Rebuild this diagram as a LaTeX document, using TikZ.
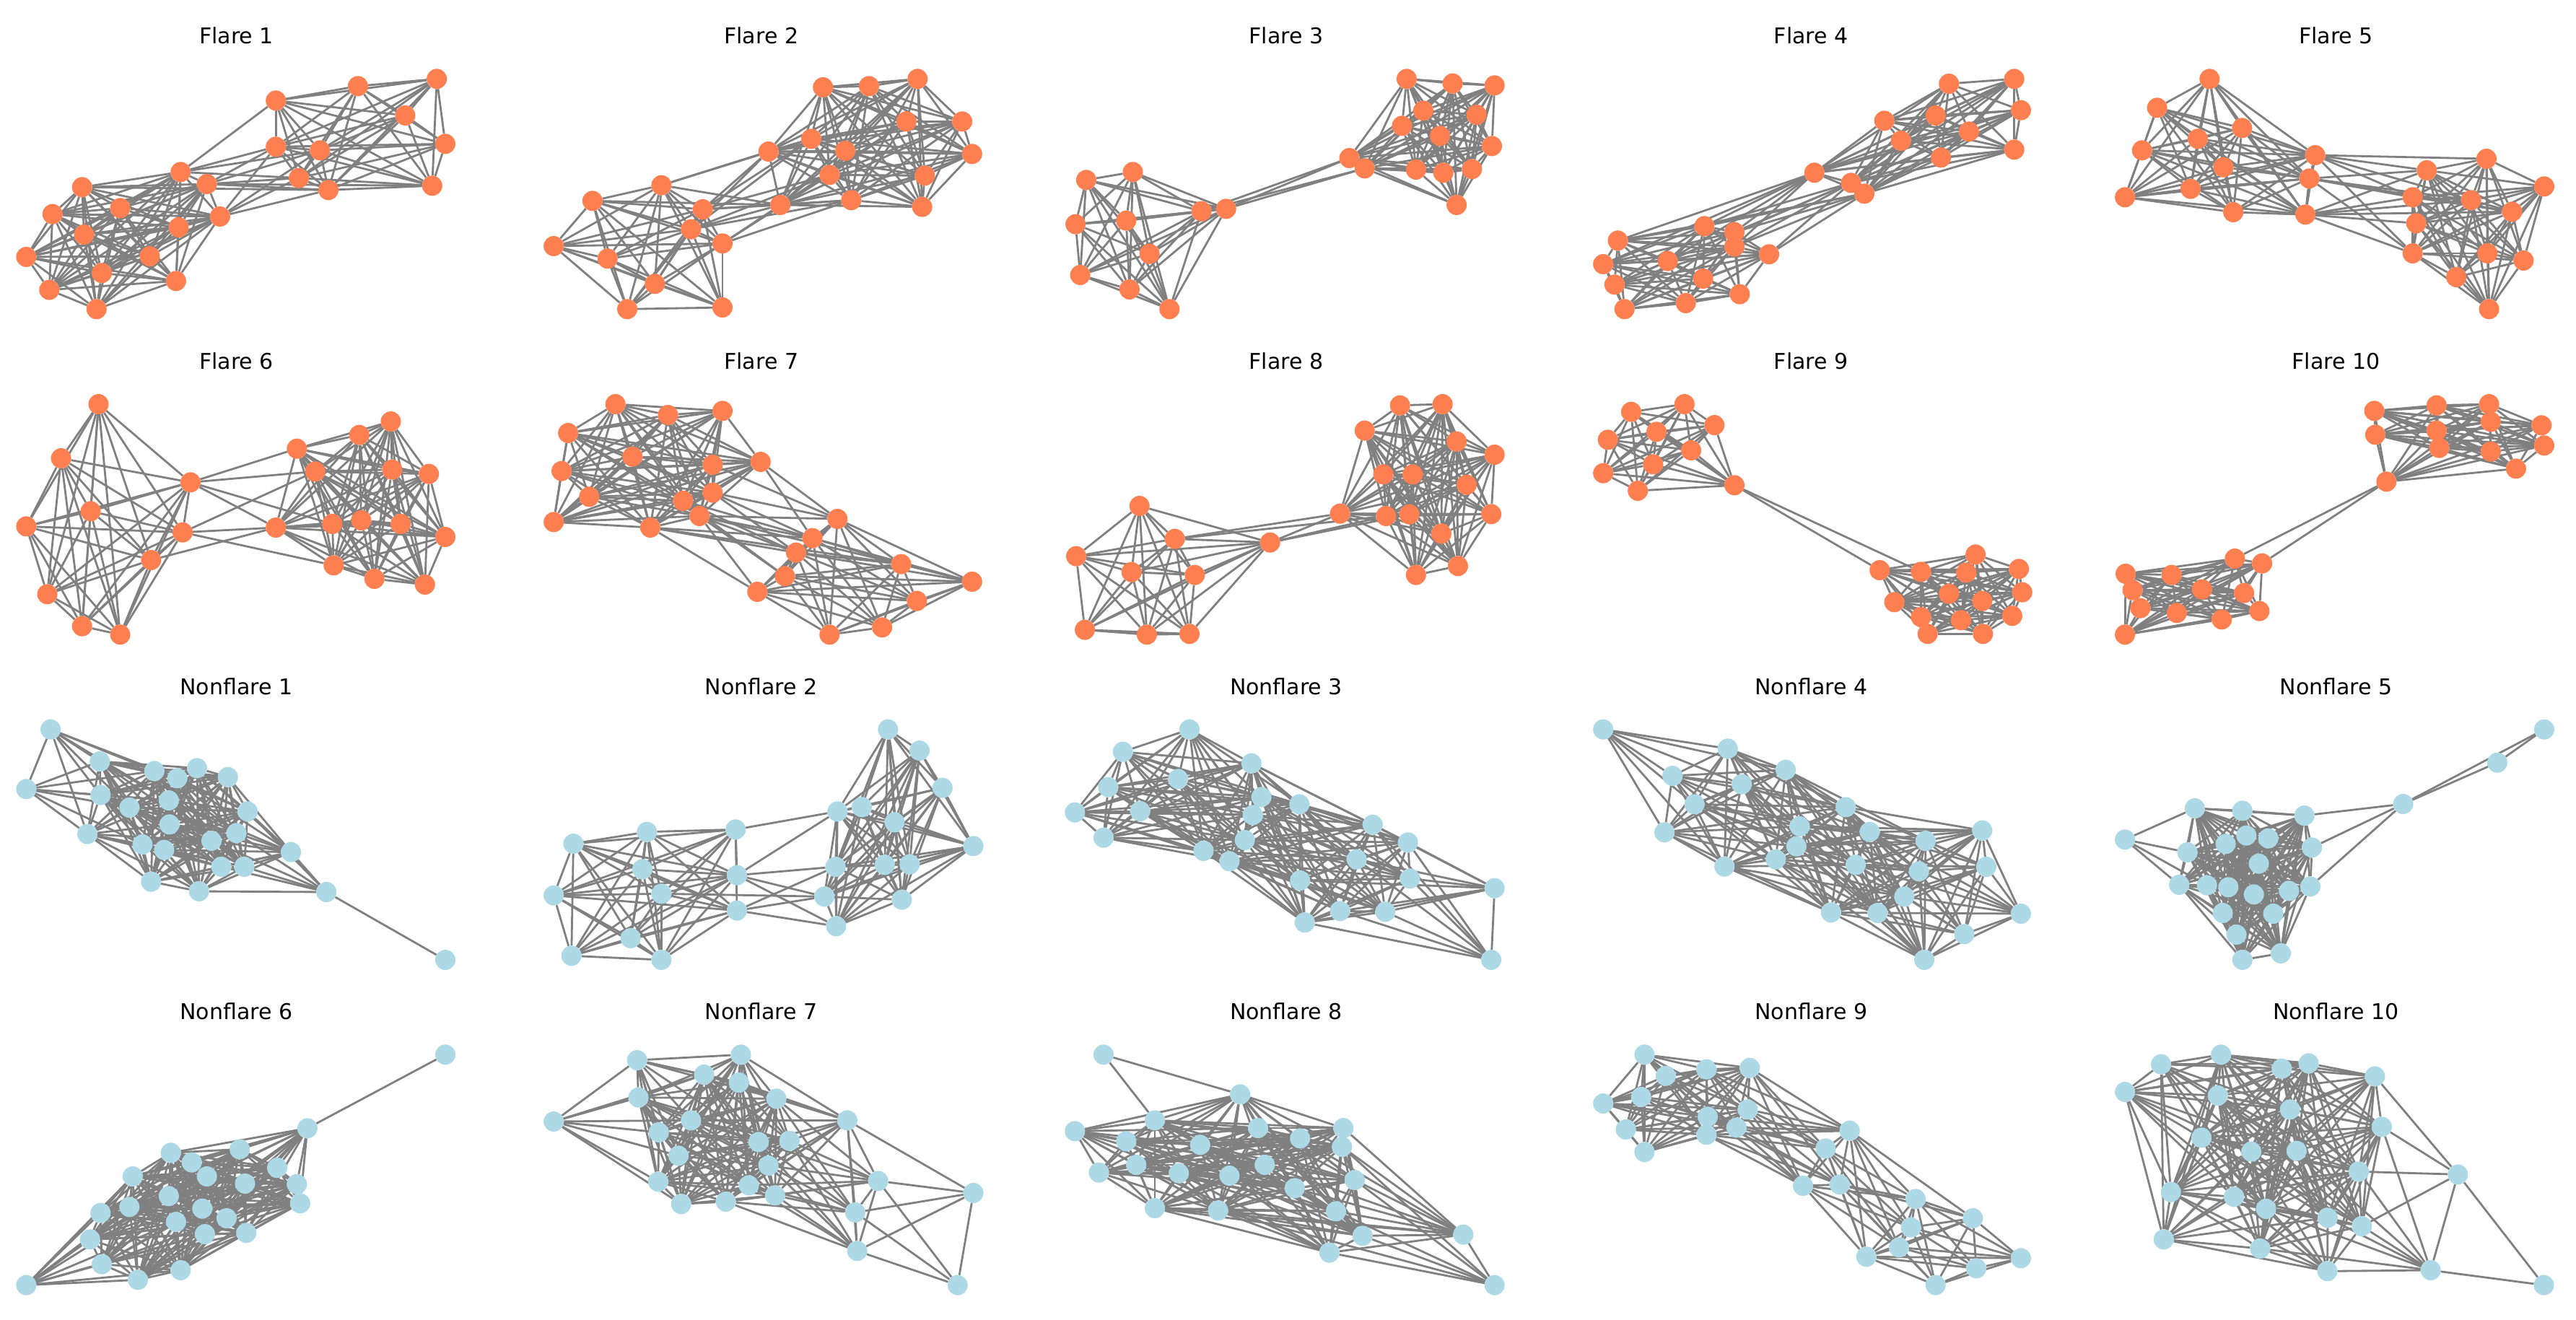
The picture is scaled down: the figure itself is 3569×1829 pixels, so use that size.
\documentclass[tikz,border=0pt]{standalone}
\usepackage{fontspec}
\setmainfont{DejaVu Sans}
\pgfdeclarelayer{bglayer}
\pgfdeclarelayer{edgelayer}
\pgfsetlayers{bglayer,edgelayer,main}
\definecolor{coralc}{HTML}{FF7F50}
\definecolor{lblue}{HTML}{ADD8E6}
\definecolor{edgec}{HTML}{808080}
\tikzset{
  fnode/.style={circle,fill=coralc,draw=none,inner sep=0pt,minimum size=1.4cm},
  nnode/.style={circle,fill=lblue,draw=none,inner sep=0pt,minimum size=1.4cm},
  edgeline/.style={draw=edgec,line width=4pt},
  ptitle/.style={anchor=base,font=\fontsize{42.7}{50}\selectfont,inner sep=0pt}
}
% #1 prefix, #2 crop x, #3 crop y, #4 x scale, #5 radius, #6 node style, #7 nodes, #8 extra edges
\newcommand\graphpanel[8]{%
  \foreach[count=\i] \px/\py/\pc in {#7}{%
    \pgfmathsetmacro\fx{#2+\px*#4}%
    \pgfmathsetmacro\fy{#3+\py/3}%
    \node[#6] (#1-\i) at (\fx,\fy) {};
    \expandafter\xdef\csname #1x\i\endcsname{\fx}%
    \expandafter\xdef\csname #1y\i\endcsname{\fy}%
    \expandafter\xdef\csname #1c\i\endcsname{\pc}%
    \xdef\gpn{\i}%
  }%
  \begin{pgfonlayer}{edgelayer}
  \foreach \i in {1,...,\gpn}{%
    \foreach \j in {1,...,\gpn}{%
      \ifnum\j>\i\relax
        \ifnum\csname #1c\i\endcsname=\csname #1c\j\endcsname\relax
          \edef\xa{\csname #1x\i\endcsname}\edef\xb{\csname #1x\j\endcsname}%
          \edef\ya{\csname #1y\i\endcsname}\edef\yb{\csname #1y\j\endcsname}%
          \pgfmathtruncatemacro\gpok{veclen(\xa-\xb,\ya-\yb)<#5?1:0}%
          \ifnum\gpok=1\relax
            \draw[edgeline] (#1-\i) -- (#1-\j);
          \fi
        \fi
      \fi
    }%
  }%
  \if\relax\detokenize{#8}\relax\else
    \foreach \ea/\eb in {#8}{\draw[edgeline] (#1-\ea) -- (#1-\eb);}%
  \fi
  \end{pgfonlayer}
}
\begin{document}
\begin{tikzpicture}[x=0.05cm,y=-0.05cm]
\begin{pgfonlayer}{bglayer}
\fill[white] (0,0) rectangle (3569,1829);
\end{pgfonlayer}
\useasboundingbox (0,0) rectangle (3569,1829);

% ---------- titles ----------
\node[ptitle] (t1) at (327.5,61) {Flare 1};
\node[ptitle] (t2) at (1054.75,61) {Flare 2};
\node[ptitle] (t3) at (1782,61) {Flare 3};
\node[ptitle] (t4) at (2509.25,61) {Flare 4};
\node[ptitle] (t5) at (3236.5,61) {Flare 5};
\node[ptitle] (t6) at (327.5,511) {Flare 6};
\node[ptitle] (t7) at (1054.75,511) {Flare 7};
\node[ptitle] (t8) at (1782,511) {Flare 8};
\node[ptitle] (t9) at (2509.25,511) {Flare 9};
\node[ptitle] (t10) at (3236.5,511) {Flare 10};
\node[ptitle] (t11) at (327.5,962) {Nonflare 1};
\node[ptitle] (t12) at (1054.75,962) {Nonflare 2};
\node[ptitle] (t13) at (1782,962) {Nonflare 3};
\node[ptitle] (t14) at (2509.25,962) {Nonflare 4};
\node[ptitle] (t15) at (3236.5,962) {Nonflare 5};
\node[ptitle] (t16) at (327.5,1412) {Nonflare 6};
\node[ptitle] (t17) at (1054.75,1412) {Nonflare 7};
\node[ptitle] (t18) at (1782,1412) {Nonflare 8};
\node[ptitle] (t19) at (2509.25,1412) {Nonflare 9};
\node[ptitle] (t20) at (3236.5,1412) {Nonflare 10};

% ---------- Flare panels ----------
\graphpanel{fa}{0}{60}{0.91}{500}{fnode}{420/238/1,545/178/1,665/148/1,617/300/1,678/418/1,420/430/1,487/445/1,455/560/1,500/610/1,658/592/1,275/535/2,315/585/2,125/598/2,183/685/2,80/710/2,335/720/2,272/765/2,128/795/2,40/888/2,228/885/2,155/955/2,268/988/2,75/1025/2,147/1105/2}{11/1,11/6,11/7,11/8,12/6,12/8,12/9,12/10,16/8,16/9,16/7,13/9,12/7,16/6}

\graphpanel{fb}{0}{60}{0.91}{500}{fnode}{1253/183/1,1323/178/1,1397/148/1,1380/325/1,1465/325/1,1235/397/1,1170/450/1,1287/447/1,1480/460/1,1263/547/1,1408/550/1,1296/652/1,1404/680/1,1188/672/1,1007/590/2,902/655/2,1070/690/2,1052/773/2,1100/832/2,843/843/2,925/895/2,997/1000/2,955/1105/2,1100/1098/2}{15/7,15/14,17/7,17/14,17/10,17/12,18/7,18/14,18/10,18/12,19/14,19/12,19/10,16/14,15/6,17/6,18/6}

\graphpanel{fc}{1420}{60}{0.923}{500}{fnode}{92/568/1,162/535/1,76/752/1,152/737/1,187/875/1,83/963/1,157/1023/1,217/1105/1,265/698/1,302/688/1,573/148/2,642/167/2,705/175/2,598/280/2,678/297/2,566/343/2,623/385/2,701/427/2,487/477/2,510/520/2,587/525/2,628/538/2,671/523/2,648/672/2}{9/19,10/19,10/20,9/20}

\graphpanel{fd}{1420}{60}{0.923}{500}{fnode}{1387/168/1,1485/148/1,1495/278/1,1290/322/1,1367/300/1,1417/367/1,1315/405/1,1485/442/1,1375/475/1,1185/538/1,1240/580/1,1260/625/1,1020/760/2,1065/785/2,1065/845/2,890/820/2,868/918/2,965/905/2,1117/877/2,1018/978/2,885/1003/2,1073/1043/2,992/1080/2,900/1105/2}{10/13,10/14,10/15,10/16,10/17,11/13,11/14,11/15,11/19,11/18,12/13,12/14,12/15,12/19,12/16,10/18}

\graphpanel{fe}{2860}{60}{0.4545}{500}{fnode}{443/148/1,283/268/1,542/352/1,407/397/1,237/445/1,485/515/1,385/605/1,185/640/1,515/702/1,765/465/1,747/562/1,735/712/1,1105/528/2,1287/480/2,1463/595/2,1062/640/2,1240/652/2,1365/700/2,1073/748/2,1062/873/2,1290/873/2,1400/903/2,1195/972/2,1295/1105/2}{10/13,10/16,10/17,10/20,11/13,11/16,11/17,11/20,12/16,12/17,12/20,12/13,11/18,12/18,10/14,12/19}

\graphpanel{ff}{0}{500}{0.91}{500}{fnode}{150/180/1,93/405/1,290/505/1,138/625/1,40/688/1,278/713/1,230/828/1,72/970/1,125/1103/1,183/1138/1,452/365/2,547/308/2,595/252/2,480/460/2,597/452/2,653/470/2,420/693/2,506/678/2,550/663/2,610/678/2,678/732/2,508/850/2,570/906/2,647/930/2}{3/11,3/14,3/17,6/17,6/22,6/14,7/17,3/18}

\graphpanel{fg}{0}{500}{0.91}{500}{fnode}{937/180/1,1017/225/1,1100/208/1,865/300/1,963/398/1,1085/432/1,1158/420/1,855/458/1,897/565/1,1040/582/1,1085/548/1,843/670/1,990/693/1,1065/645/1,1275/657/2,1237/737/2,1212/797/2,1372/845/2,1195/895/2,1480/918/2,1153/960/2,1396/998/2,1343/1108/2,1263/1138/2}{14/15,14/16,14/17,14/18,14/19,13/16,13/17,13/18,7/15,7/16,11/15,11/16,11/17,10/16,10/17,10/19,13/21,14/21,6/15}

\graphpanel{fh}{1420}{500}{0.923}{500}{fnode}{172/603/1,225/740/1,77/812/1,160/878/1,255/890/1,90/1118/1,183/1138/1,247/1135/1,368/755/1,563/185/2,627/180/2,510/290/2,648/335/2,705/390/2,538/472/2,582/472/2,663/515/2,473/635/2,542/645/2,577/638/2,700/637/2,625/718/2,650/853/2,587/890/2}{9/18,9/19,9/20,2/18,2/19}

\graphpanel{fi}{1420}{500}{0.923}{500}{fnode}{910/212/1,990/180/1,1035/267/1,948/295/1,875/328/1,1000/372/1,943/430/1,868/467/1,920/540/1,1065/517/1,1283/870/2,1345/877/2,1427/805/2,1413/880/2,1492/865/2,1305/1003/2,1387/968/2,1437/998/2,1497/962/2,1345/1065/2,1405/1078/2,1482/1060/2,1355/1135/2,1438/1135/2}{10/11,10/12}

\graphpanel{fj}{2860}{500}{0.4545}{500}{fnode}{945/208/1,1135/185/1,1295/180/1,948/307/1,1135/290/1,1300/253/1,1143/362/1,1455/268/1,1463/352/1,1300/377/1,1377/448/1,982/502/1,187/885/2,327/890/2,520/822/2,603/842/2,208/953/2,420/950/2,548/965/2,232/1028/2,343/1048/2,480/1075/2,595/1040/2,185/1138/2}{12/15,12/16}

% ---------- Nonflare panels ----------
\graphpanel{na}{0}{930}{0.91}{200}{nnode}{77/242/1,152/375/1,40/490/1,235/415/1,300/403/1,270/445/1,347/440/1,153/515/1,197/567/1,257/537/1,377/583/1,258/637/1,360/673/1,133/677/1,217/720/1,250/743/1,322/705/1,443/752/1,337/813/1,372/813/1,230/875/1,303/915/1,497/918/1,678/1200/2}{23/24}

\graphpanel{nb}{0}{930}{0.91}{280}{nnode}{1352/242/1,1400/330/1,1435/485/1,1275/583/1,1312/565/1,1362/628/1,1482/727/1,1272/813/1,1347/805/1,1385/803/1,1255/937/1,1373/950/1,1273/1060/1,873/717/2,985/668/2,1120/658/2,978/823/2,1122/848/2,843/932/2,1007/925/2,1122/995/2,960/1110/2,870/1183/2,1007/1200/2}{16/4,18/4,18/8,18/11,21/11,21/13,21/8,18/13,20/11}

\graphpanel{nc}{1420}{930}{0.923}{270}{nnode}{247/242/1,147/335/1,340/383/1,230/448/1,125/482/1,355/523/1,412/553/1,75/587/1,173/582/1,342/598/1,522/638/1,118/692/1,575/712/1,330/702/1,268/747/1,307/790/1,498/782/1,578/862/1,413/870/1,705/902/1,473/997/1,541/1000/1,420/1045/1,700/1200/1}{}

\graphpanel{nd}{1420}{930}{0.923}{260}{nnode}{868/242/1,1055/322/1,972/435/1,1142/410/1,1076/470/1,1005/553/1,1232/565/1,960/670/1,1163/645/1,1268/668/1,1437/662/1,1352/705/1,1158/728/1,1050/812/1,1127/782/1,1247/805/1,1342/832/1,1443/813/1,1320/937/1,1210/1003/1,1280/1005/1,1495/1008/1,1410/1093/1,1350/1200/1}{}

\graphpanel{ne}{2860}{930}{0.4545}{300}{nnode}{1463/242/2,1320/380/2,1033/552/2,398/570/1,543/580/1,732/600/1,185/700/3,375/753/1,492/718/1,555/683/1,622/695/1,755/733/1,593/800/1,350/888/1,435/890/1,500/898/1,578/928/1,685/913/1,750/895/1,483/1005/1,637/1008/1,525/1095/1,543/1200/1,660/1173/1}{3/6,3/12,3/19,7/4,7/8,7/14,7/15}

\graphpanel{nf}{0}{1409}{0.91}{260}{nnode}{678/157/2,468/463/1,260/565/1,365/550/1,292/605/1,422/627/1,202/663/1,315/663/1,373/693/1,452/695/1,257/745/1,197/790/1,457/775/1,153/815/1,308/797/1,268/852/1,345/837/1,137/925/1,312/903/1,375/898/1,155/1028/1,275/1053/1,210/1093/1,40/1115/1}{1/2}

\graphpanel{ng}{0}{1409}{0.91}{230}{nnode}{970/180/1,1128/157/1,1072/240/1,1125/273/1,972/335/1,1182/340/1,843/435/1,1052/430/1,1003/480/1,1290/430/1,1155/520/1,1202/515/1,1033/577/1,1170/618/1,1002/685/1,1337/682/1,1140/700/1,1180/742/1,1037/778/1,1105/768/1,1302/813/1,1482/732/1,1305/973/1,1458/1115/1}{}

\graphpanel{nh}{1420}{1409}{0.923}{300}{nnode}{118/157/2,323/322/1,195/430/1,75/475/1,350/462/1,478/462/1,152/517/1,263/532/1,413/505/1,476/540/1,167/615/1,111/647/1,231/650/1,307/660/1,360/615/1,495/678/1,405/712/1,195/795/1,290/805/1,467/808/1,507/910/1,658/905/1,457/980/1,705/1115/1}{1/2,1/3,18/22,19/22,19/24}

\graphpanel{ni}{1420}{1409}{0.923}{220}{nnode}{930/157/1,962/245/1,1023/218/1,1088/212/1,925/333/1,868/360/1,1085/385/1,1025/415/1,1068/460/1,902/468/1,1023/490/1,930/562/1,1238/473/1,1202/547/1,1168/702/1,1223/697/1,1337/757/1,1423/837/1,1330/875/1,1312/958/1,1263/997/1,1495/1003/1,1428/1045/1,1367/1115/1}{}

\graphpanel{nj}{2860}{1409}{0.4545}{270}{nnode}{295/197/1,478/157/1,663/215/1,745/193/1,947/247/1,185/312/1,468/327/1,688/385/1,968/457/1,418/502/1,570/560/1,708/557/1,898/643/1,1200/655/2,325/728/1,517/748/1,615/798/1,803/835/1,907/870/1,303/925/1,597/963/1,802/1057/1,1117/1053/1,1462/1115/2}{14/5,14/9,14/13,14/19,14/23,24/23}
\end{tikzpicture}
\end{document}
